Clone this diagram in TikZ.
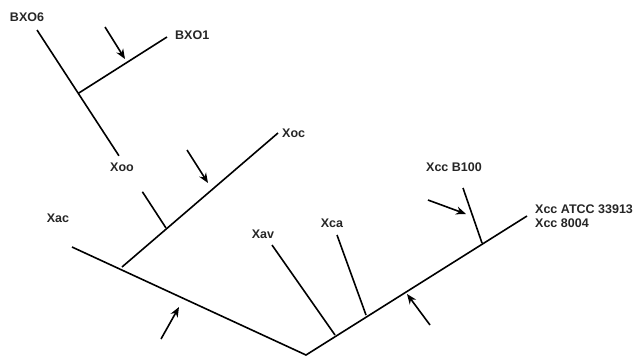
\documentclass[tikz,border=0pt]{standalone}
\usepackage{fontspec}
\setmainfont{Liberation Sans}
\usetikzlibrary{arrows.meta,calc}

\begin{document}
\begin{tikzpicture}[x=1pt,y=-1pt,
    branch/.style={line width=1.6pt},
    marker/.style={line width=1.6pt,-{Stealth[length=10pt,width=8pt]}},
    taxon/.style={font=\fontsize{12.5}{14}\selectfont\bfseries,inner sep=0pt,text=black!85}]

    % 枠
    \useasboundingbox (0,0) rectangle (640,360);

    % 分岐点・末端の座標
    \coordinate (R) at (306,355);
    \coordinate (Tac) at (72,247);
    \coordinate (Jac) at (122,267);
    \coordinate (Toc) at (278,133);
    \coordinate (Joo) at (166,228);
    \coordinate (Tb6) at (37,30);
    \coordinate (Qa) at ($(Joo)!0.183!(Tb6)$);
    \coordinate (Qb) at ($(Joo)!0.365!(Tb6)$);
    \coordinate (Jb1) at ($(Joo)!0.68!(Tb6)$);
    \coordinate (Tb1) at (167,37);
    \coordinate (Tcc) at (527,216);
    \coordinate (Jav) at (335,335);
    \coordinate (Tav) at (272,245);
    \coordinate (Jca) at (366,315);
    \coordinate (Tca) at (337,235);
    \coordinate (Jcb) at (482,243);
    \coordinate (Tcb) at (463,188);

    % 株名のラベル
    \node[taxon] (lb6) at (27,17) {BXO6};
    \node[taxon,anchor=west] (lb1) at (175,35) {BXO1};
    \node[taxon,anchor=west] (loc) at (282,133) {Xoc};
    \node[taxon] (loo) at (122,167) {Xoo};
    \node[taxon] (lac) at (58,218) {Xac};
    \node[taxon] (lav) at (263,234) {Xav};
    \node[taxon] (lca) at (332,223) {Xca};
    \node[taxon] (lcb) at (454,167) {Xcc B100};
    \node[taxon,anchor=west] (lcc) at (535,209) {Xcc ATCC 33913};
    \node[taxon,anchor=west] (lc8) at (535,223) {Xcc 8004};

    % 枝の描画
    \draw [branch] (Tac) -- (R) -- (Tcc);
    \draw [branch] (Jac) -- (Toc);
    \draw [branch] (Joo) -- (Qa);
    \draw [branch] (Qb) -- (Tb6);
    \draw [branch] (Jb1) -- (Tb1);
    \draw [branch] (Jav) -- (Tav);
    \draw [branch] (Jca) -- (Tca);
    \draw [branch] (Jcb) -- (Tcb);

    % 矢印
    \coordinate (A1s) at (105,27);  \coordinate (A1e) at (125,59);
    \coordinate (A2s) at (187,150); \coordinate (A2e) at (208,183);
    \coordinate (A3s) at (161,339); \coordinate (A3e) at (179,307);
    \coordinate (A4s) at (430,325); \coordinate (A4e) at (407,294);
    \coordinate (A5s) at (428,200); \coordinate (A5e) at (466,214);
    \draw [marker] (A1s) -- (A1e);
    \draw [marker] (A2s) -- (A2e);
    \draw [marker] (A3s) -- (A3e);
    \draw [marker] (A4s) -- (A4e);
    \draw [marker] (A5s) -- (A5e);

\end{tikzpicture}
\end{document}
